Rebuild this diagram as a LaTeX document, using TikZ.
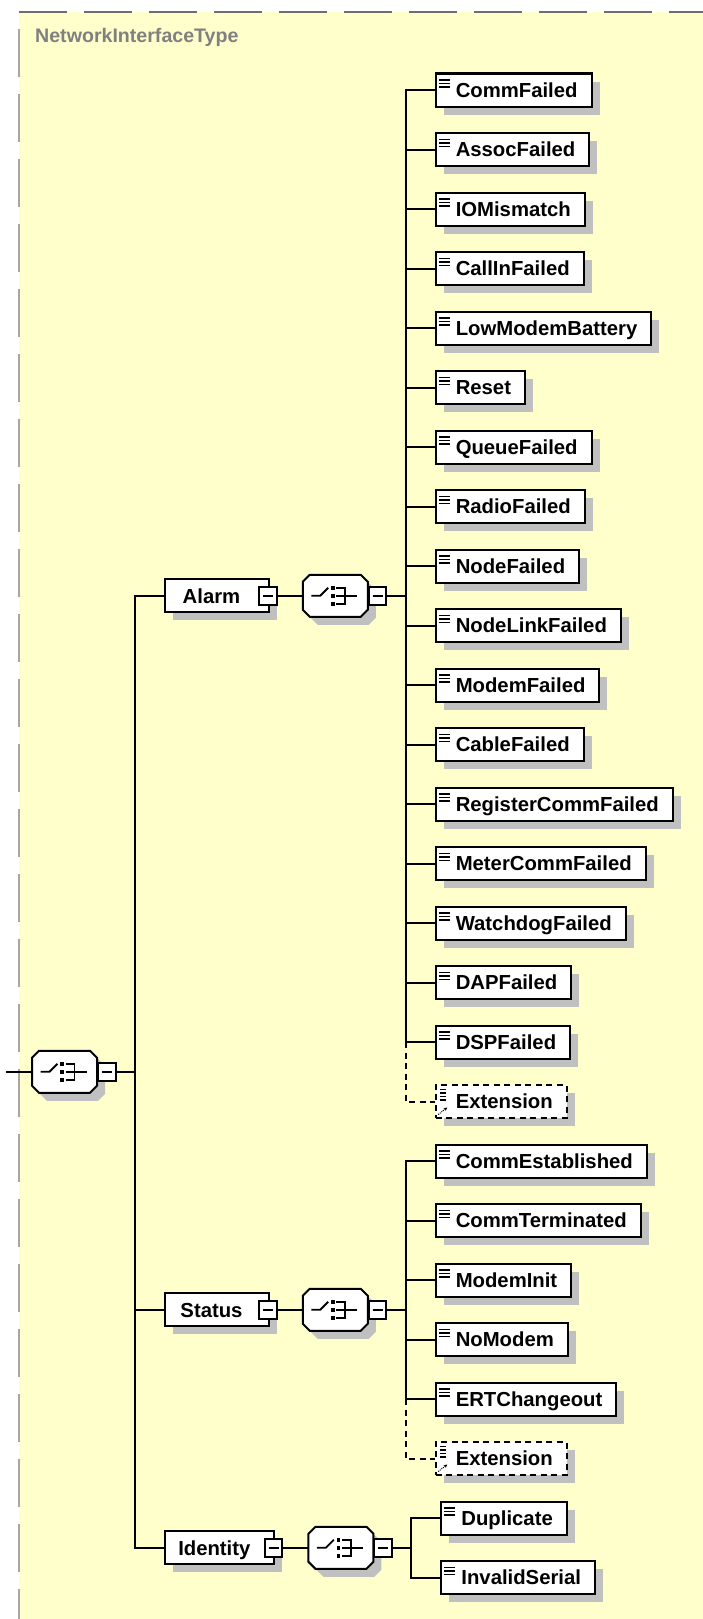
\documentclass[tikz,border=0pt]{standalone}
\usepackage{fontspec}
\setmainfont{Liberation Sans}
\usepackage{tikz}
\usetikzlibrary{positioning, calc, shadows, arrows.meta}
\definecolor{typeyellow}{HTML}{FFFFCC}
\definecolor{frametop}{HTML}{6E6E6E}
\definecolor{frameleft}{HTML}{A6A6A6}
\definecolor{shadowgray}{HTML}{C0C0C0}
\definecolor{typelabel}{HTML}{808080}

\newcommand{\elemfont}{\fontsize{20.3}{24}\selectfont\bfseries}
\newcommand{\typefont}{\fontsize{19.6}{24}\selectfont\bfseries}

% octagon and sequence sign of a compositor node
\newcommand{\seqsymbol}[1]{%
  \draw[line width=2pt, fill=white, boxshadow]
    ([xshift=7pt]#1.north west) -- ([xshift=-7pt]#1.north east) -- ([yshift=-7pt]#1.north east)
    -- ([yshift=7pt]#1.south east) -- ([xshift=-7pt]#1.south east) -- ([xshift=7pt]#1.south west)
    -- ([yshift=7pt]#1.south west) -- ([yshift=-7pt]#1.north west) -- cycle;
  \draw[line width=1.8pt] ([xshift=-24pt]#1.center) -- ([xshift=-15pt]#1.center) -- ([xshift=-7pt,yshift=8pt]#1.center);
  \foreach \d in {-8,0,8} {
    \fill[black] ([shift={(-2.5pt,\d pt)}]#1.center) +(-1.8pt,-1.8pt) rectangle +(1.8pt,1.8pt);
    \draw[line width=1.8pt] ([shift={(1pt,\d pt)}]#1.center) -- ++(9pt,0);
  }
  \draw[line width=1.8pt] ([shift={(10pt,-8.9pt)}]#1.center) -- ([shift={(10pt,8.9pt)}]#1.center);
  \draw[line width=1.8pt] ([xshift=10pt]#1.center) -- ([xshift=22pt]#1.center);
}

\tikzset{
  % connectors
  conn/.style={line width=2pt, line cap=rect},
  optconn/.style={line width=2pt, dash pattern=on 6pt off 4.5pt},
  boxshadow/.style={drop shadow={shadow xshift=8pt, shadow yshift=-8pt, fill=shadowgray, opacity=1}},
  % element boxes
  elbase/.style={draw, fill=white, line width=2pt, rectangle, anchor=west,
    minimum height=33pt, inner ysep=0pt, text height=18pt, text depth=3.5pt,
    font=\elemfont, boxshadow},
  elbox/.style={elbase, inner xsep=14pt, execute at begin node={\hspace*{6pt}},
    path picture={
      \foreach \d in {6.5,10,13.5}
        \draw[line width=1.3pt] ([xshift=3pt,yshift=-\d pt]path picture bounding box.north west) -- ++(11pt,0);
    }},
  extbox/.style={elbase, inner xsep=14pt, dash pattern=on 6pt off 4.5pt, execute at begin node={\hspace*{6pt}},
    path picture={
      \foreach \d in {4.5,8,11.5,15}
        \draw[line width=1.2pt] ([xshift=4pt,yshift=-\d pt]path picture bounding box.north west) -- ++(8pt,0);
      \draw[line width=1pt, densely dotted, -{Stealth[length=3.5pt,width=3.5pt]}]
        ([xshift=2.5pt,yshift=3.5pt]path picture bounding box.south west) -- ++(9pt,7pt);
    }},
  topbox/.style={elbase, inner xsep=13.75pt, minimum width=104pt, execute at end node={\hspace*{10pt}}},
  % expand/collapse square
  minus/.style={draw, fill=white, rectangle, line width=2pt, minimum size=17.5pt, inner sep=0pt,
    path picture={\draw[line width=2pt] ([xshift=-5pt]path picture bounding box.center) -- ([xshift=5pt]path picture bounding box.center);}},
  % sequence compositor
  seqbox/.style={rectangle, minimum width=63pt, minimum height=40pt, inner sep=0pt, outer sep=1pt,
    append after command={\pgfextra{\seqsymbol{\tikzlastnode}}}}
}

\begin{document}
\begin{tikzpicture}[x=1pt, y=-1pt]
  % Page and complex type frame
  \useasboundingbox (0,0) rectangle (703,1619);
  \fill[white] (0,0) rectangle (703,1619);
  \fill[typeyellow] (19,12) rectangle (703,1619);
  \draw[frametop, line width=2.5pt, dash pattern=on 48pt off 17pt] (19,12) -- (703,12);
  \draw[frameleft, line width=2.5pt, dash pattern=on 48pt off 17pt, dash phase=48pt] (19,12) -- (19,1619);
  \node[typelabel, font=\typefont, anchor=west, inner sep=0pt] (typename) at (35,37) {NetworkInterfaceType};

  % Row positions
  \foreach \i in {0,...,25}
    \coordinate (row\i) at (0,{90+59.5*\i});
  \coordinate (alarmrow) at ($(row0)!.5!(row17)$);
  \coordinate (statusrow) at ($(row18)!.5!(row23)$);
  \coordinate (identityrow) at ($(row24)!.5!(row25)$);
  \coordinate (rootrow) at ($(alarmrow)!.5!(identityrow)$);

  % Root sequence
  \coordinate (entry) at ([xshift=7pt]rootrow);
  \node[seqbox, anchor=west] (rootseq) at ([xshift=32pt]rootrow) {};
  \node[minus, right=0pt of rootseq] (rootseq-m) {};
  \coordinate[right=18.5pt of rootseq-m] (rootbus);
  \draw[conn] (entry) -- (rootseq);
  \draw[conn] (rootseq-m) -- (rootbus);

  % Alarm, Status, Identity
  \foreach \t/\txt in {alarm/Alarm, status/Status, identity/Identity} {
    \path (rootbus |- \t row) ++(28.5pt,0) node[topbox] (\t) {\txt};
    \node[minus] (\t-m) at ([xshift=-1.5pt]\t.east) {};
    \node[seqbox, right=25pt of \t-m] (\t seq) {};
    \node[minus, right=0pt of \t seq] (\t seq-m) {};
    \coordinate[right=18.5pt of \t seq-m] (\t bus);
    \draw[conn] (rootbus |- \t) -- (\t);
    \draw[conn] (\t-m) -- (\t seq);
    \draw[conn] (\t seq-m) -- (\t bus);
  }
  \draw[conn] (rootbus |- alarm) -- (rootbus |- identity);

  % Alarm children
  \foreach \i/\nm/\txt in {0/commfailed/CommFailed, 1/assocfailed/AssocFailed, 2/iomismatch/IOMismatch,
      3/callinfailed/CallInFailed, 4/lowmodembattery/LowModemBattery, 5/reset/Reset, 6/queuefailed/QueueFailed,
      7/radiofailed/RadioFailed, 8/nodefailed/NodeFailed, 9/nodelinkfailed/NodeLinkFailed, 10/modemfailed/ModemFailed,
      11/cablefailed/CableFailed, 12/registercommfailed/RegisterCommFailed, 13/metercommfailed/MeterCommFailed,
      14/watchdogfailed/WatchdogFailed, 15/dapfailed/DAPFailed, 16/dspfailed/DSPFailed} {
    \path (alarmbus |- row\i) ++(29pt,0) node[elbox] (\nm) {\txt};
    \draw[conn] (alarmbus |- \nm) -- (\nm);
  }
  \path (alarmbus |- row17) ++(29pt,0) node[extbox] (alarmext) {Extension};
  \draw[conn] (alarmbus |- commfailed) -- (alarmbus |- dspfailed);
  \draw[optconn] (alarmbus |- dspfailed) |- (alarmext);

  % Status children
  \foreach \i/\nm/\txt in {18/commestablished/CommEstablished, 19/commterminated/CommTerminated,
      20/modeminit/ModemInit, 21/nomodem/NoModem, 22/ertchangeout/ERTChangeout} {
    \path (statusbus |- row\i) ++(29pt,0) node[elbox] (\nm) {\txt};
    \draw[conn] (statusbus |- \nm) -- (\nm);
  }
  \path (statusbus |- row23) ++(29pt,0) node[extbox] (statusext) {Extension};
  \draw[conn] (statusbus |- commestablished) -- (statusbus |- ertchangeout);
  \draw[optconn] (statusbus |- ertchangeout) |- (statusext);

  % Identity children
  \foreach \i/\nm/\txt in {24/duplicate/Duplicate, 25/invalidserial/InvalidSerial} {
    \path (identitybus |- row\i) ++(29pt,0) node[elbox] (\nm) {\txt};
    \draw[conn] (identitybus |- \nm) -- (\nm);
  }
  \draw[conn] (identitybus |- duplicate) -- (identitybus |- invalidserial);
\end{tikzpicture}
\end{document}
